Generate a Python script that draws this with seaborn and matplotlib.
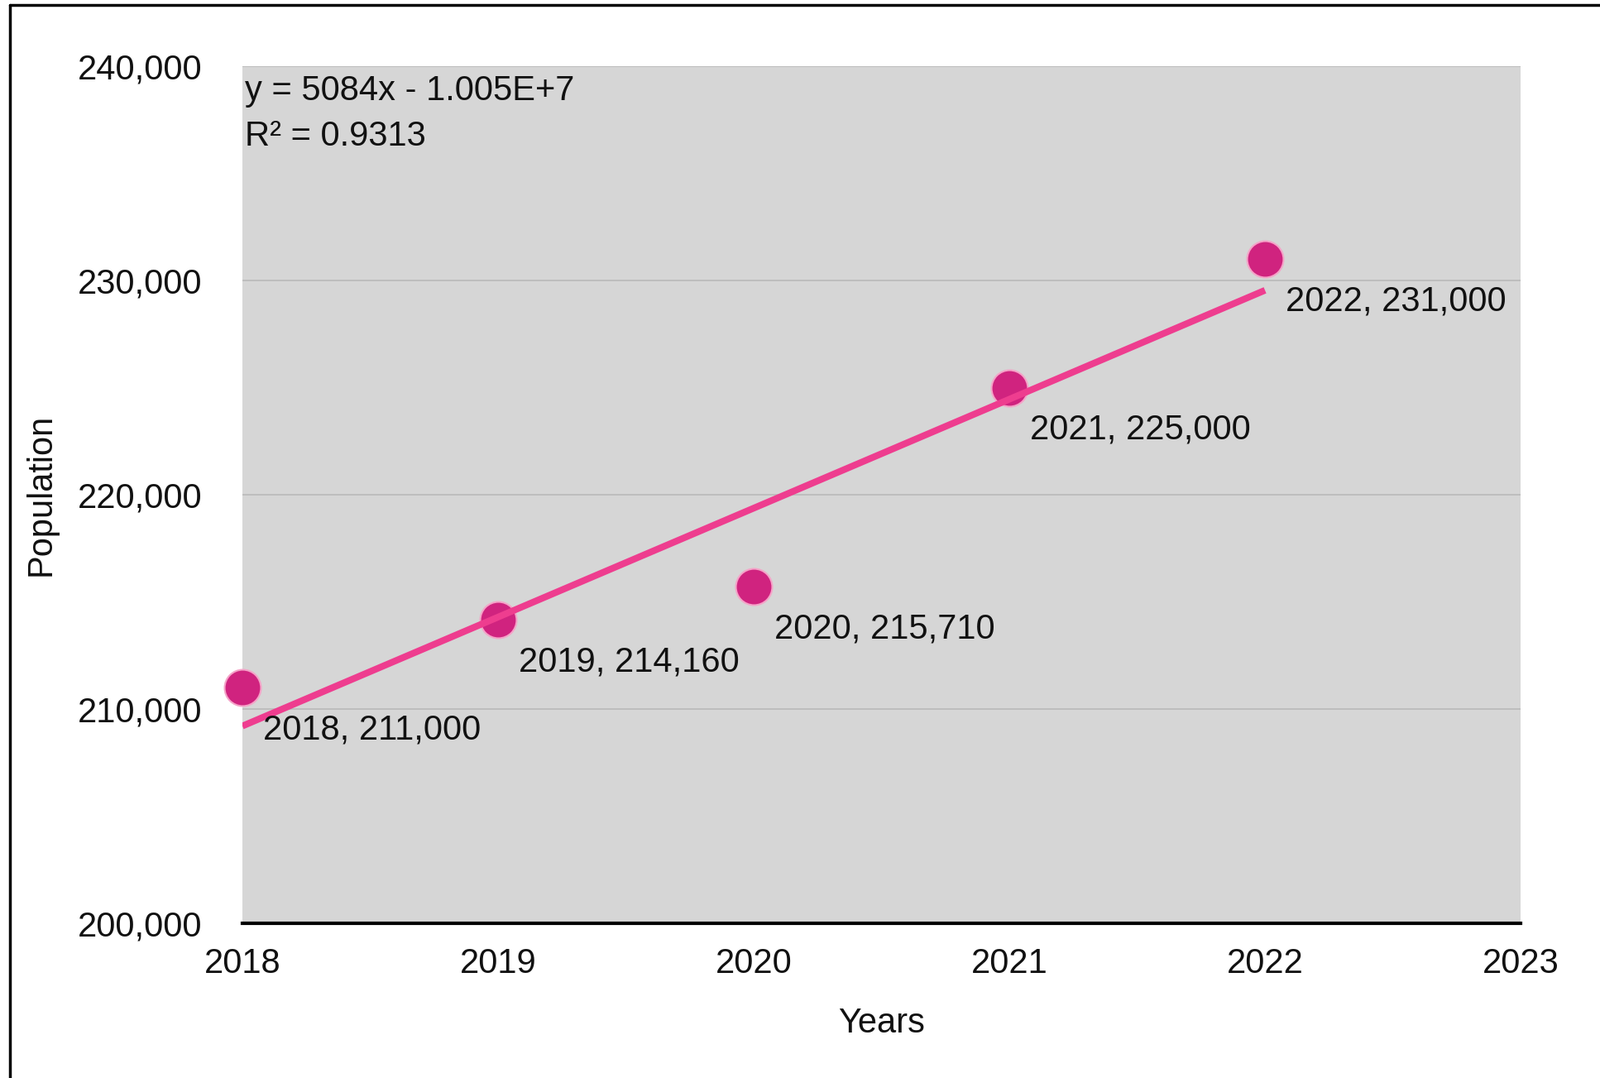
import numpy as np
import pandas as pd
import matplotlib
matplotlib.use('Agg')
import matplotlib.pyplot as plt
import seaborn as sns
from matplotlib.lines import Line2D
from matplotlib.ticker import FuncFormatter

years = [2018, 2019, 2020, 2021, 2022]
population = [211000, 214160, 215710, 225000, 231000]
x_ticks = [2018, 2019, 2020, 2021, 2022, 2023]
y_ticks = [200000, 210000, 220000, 230000, 240000]

df = pd.DataFrame({'Years': years, 'Population': population})

# linear trend, same as the spreadsheet trendline
slope, intercept = np.polyfit(years, population, 1)
r2 = np.corrcoef(years, population)[0, 1] ** 2
exp = int(np.floor(np.log10(abs(intercept))))
mant = abs(intercept) / 10 ** exp
sign = '-' if intercept < 0 else '+'
eq_text = f"y = {slope:.0f}x {sign} {mant:.3f}E+{exp}"
r2_text = f"R\u00b2 = {r2:.4f}"

sns.set_style('white')
plt.rcParams['font.family'] = ['Liberation Sans', 'DejaVu Sans']

fig = plt.figure(figsize=(19.34, 13.03), dpi=100)
ax = fig.add_axes([0.1515, 0.1435, 0.7989, 0.7951])

sns.regplot(data=df, x='Years', y='Population', ci=None, ax=ax,
            scatter_kws=dict(s=1000, color='#d0237f', edgecolor='#f5a3c8',
                             linewidths=1.5, alpha=1, clip_on=False, zorder=3),
            line_kws=dict(color='#ee3d8f', lw=5.8, zorder=4,
                          solid_capstyle='butt'))

for yr, pop in zip(years, population):
  ax.annotate(f"{yr}, {pop:,}", (yr, pop), xytext=(18, -37),
              textcoords='offset points', ha='left', va='center',
              fontsize=30, color='#111111', zorder=5)

ax.annotate(eq_text, xy=(0, 1), xycoords='axes fraction', xytext=(2, -21.6),
            textcoords='offset points', ha='left', va='center',
            fontsize=30, color='#111111')
ax.annotate(r2_text, xy=(0, 1), xycoords='axes fraction', xytext=(2, -61),
            textcoords='offset points', ha='left', va='center',
            fontsize=30, color='#111111')

ax.set_facecolor('#d6d6d6')
ax.set_xlim(x_ticks[0], x_ticks[-1])
ax.set_ylim(y_ticks[0], y_ticks[-1])
ax.set_xticks(x_ticks)
ax.set_yticks(y_ticks)
ax.yaxis.set_major_formatter(FuncFormatter(lambda v, p: f"{int(v):,}"))
ax.set_axisbelow(True)
ax.yaxis.grid(True, color='#bababa', lw=1.2)
ax.xaxis.grid(False)

for side in ['left', 'right', 'top']:
  ax.spines[side].set_visible(False)
ax.spines['bottom'].set_color('black')
ax.spines['bottom'].set_linewidth(3)

ax.tick_params(axis='x', length=0, labelsize=30, pad=21, labelcolor='#111111')
ax.tick_params(axis='y', length=0, labelsize=30, pad=35, labelcolor='#111111')

ax.set_xlabel('Years', fontsize=30, color='#111111')
ax.set_ylabel('Population', fontsize=30, color='#111111')
ax.xaxis.set_label_coords(0.5, -0.0977)
ax.yaxis.set_label_coords(-0.1443, 0.5)

# screenshot frame on left and top
fig.add_artist(Line2D([12 / 1934, 12 / 1934], [0, 1 - 6 / 1303],
                      transform=fig.transFigure, color='black', lw=2.5))
fig.add_artist(Line2D([12 / 1934, 1], [1 - 6 / 1303, 1 - 6 / 1303],
                      transform=fig.transFigure, color='black', lw=2.5))

fig.savefig('out.png', dpi=100)
